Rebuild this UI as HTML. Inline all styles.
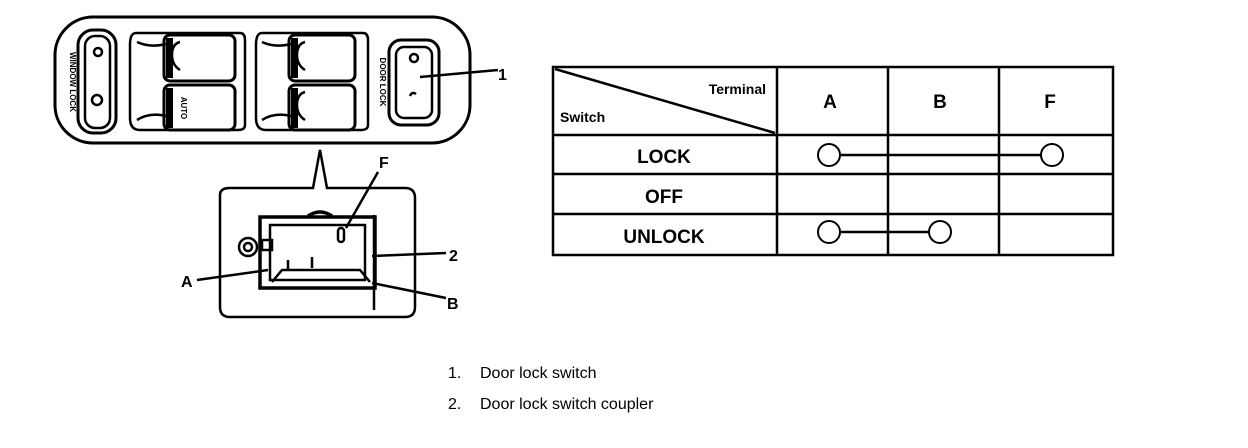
<!DOCTYPE html>
<html><head><meta charset="utf-8"><style>
html,body{margin:0;padding:0;background:#fff;}
svg{display:block;}
text{font-family:"Liberation Sans",Arial,sans-serif;fill:#000;}
</style></head><body>
<svg width="1248" height="448" viewBox="0 0 1248 448" xmlns="http://www.w3.org/2000/svg">
<g fill="none" stroke="#000" stroke-width="2.5">
  <!-- panel -->
  <rect x="55" y="17" width="415" height="126" rx="38" stroke-width="3"/>
  <!-- window lock switch -->
  <rect x="78" y="30" width="38" height="103" rx="15" stroke-width="3"/>
  <rect x="85" y="36" width="25" height="92" rx="10"/>
  <circle cx="98" cy="52" r="4"/>
  <circle cx="97" cy="100" r="5"/>
  <!-- group 1 -->
  <path d="M136 33 H240 Q245 33 245 40 V125 Q245 130 238 130 H140 Q130 130 130 118 V45 Q130 33 136 33Z"/>
  <rect x="164" y="35" width="71" height="46" rx="6" stroke-width="3"/>
  <rect x="164" y="85" width="71" height="45" rx="6" stroke-width="3"/>
  <path d="M137 42 Q150 48 166 44"/><path d="M137 120 Q150 112 166 116"/>
  <path d="M180 42 Q172 44 172 55 Q172 65 180 70"/>
  <!-- group 2 -->
  <path d="M262 33 H363 Q368 33 368 40 V125 Q368 130 361 130 H266 Q256 130 256 118 V45 Q256 33 262 33Z"/>
  <rect x="289" y="35" width="66" height="46" rx="6" stroke-width="3"/>
  <rect x="289" y="85" width="66" height="45" rx="6" stroke-width="3"/>
  <path d="M262 42 Q275 48 291 44"/><path d="M262 120 Q275 112 291 116"/>
  <path d="M305 42 Q297 44 297 55 Q297 65 305 70"/>
  <path d="M305 92 Q297 94 297 105 Q297 115 305 120"/>
  <!-- door lock switch -->
  <rect x="389" y="40" width="50" height="85" rx="12" stroke-width="3"/>
  <rect x="396" y="47" width="36" height="71" rx="8"/>
  <circle cx="414" cy="58" r="4"/>
  <path d="M410 96 Q412 91 416 94"/>
  <line x1="420" y1="77" x2="498" y2="70"/>
  <!-- pointer + coupler box -->
  <path d="M220 195 Q220 188 230 188 H313 L320 150 L327 188 H405 Q415 188 415 198 V307 Q415 317 405 317 H230 Q220 317 220 307Z"/>
  <rect x="260" y="217" width="115" height="71" stroke-width="3.5"/>
  <rect x="270" y="225" width="95" height="55"/>
  <path d="M308 216 Q320 208 332 216" stroke-width="3.5"/>
  <line x1="374" y1="215" x2="374" y2="310"/>
  <circle cx="248" cy="247" r="9"/><circle cx="248" cy="247" r="4"/>
  <rect x="262" y="240" width="10" height="10"/>
  <rect x="338" y="228" width="6" height="14" rx="3"/>
  <path d="M288 260 V270 M312 257 V268"/>
  <path d="M272 282 L282 270 H360 L370 282"/>
  <line x1="346" y1="228" x2="378" y2="172"/>
  <line x1="372" y1="256" x2="446" y2="253"/>
  <line x1="268" y1="270" x2="197" y2="280"/>
  <line x1="372" y1="283" x2="446" y2="298"/>
</g>
<g fill="#000" stroke="none">
  <rect x="166" y="38" width="7" height="40"/>
  <rect x="166" y="88" width="7" height="40"/>
  <rect x="291" y="38" width="7" height="40"/>
  <rect x="291" y="88" width="7" height="40"/>
</g>
<text x="70" y="82" font-size="8" font-weight="bold" transform="rotate(90 70 82)" text-anchor="middle">WINDOW LOCK</text>
<text x="380" y="82" font-size="8" font-weight="bold" transform="rotate(90 380 82)" text-anchor="middle">DOOR LOCK</text>
<text x="181" y="108" font-size="8" font-weight="bold" transform="rotate(90 181 108)" text-anchor="middle">AUTO</text>
<g font-weight="bold">
<text x="498" y="80" font-size="16">1</text>
<text x="379" y="168" font-size="16">F</text>
<text x="449" y="261" font-size="16">2</text>
<text x="181" y="287" font-size="16">A</text>
<text x="447" y="309" font-size="16">B</text>
</g>

<!-- table -->
<g fill="none" stroke="#000" stroke-width="2.5">
  <rect x="553" y="67" width="560" height="188"/>
  <line x1="553" y1="135" x2="1113" y2="135"/>
  <line x1="553" y1="174" x2="1113" y2="174"/>
  <line x1="553" y1="214" x2="1113" y2="214"/>
  <line x1="777" y1="67" x2="777" y2="255"/>
  <line x1="888" y1="67" x2="888" y2="255"/>
  <line x1="999" y1="67" x2="999" y2="255"/>
  <line x1="555" y1="69" x2="775" y2="133"/>
  <line x1="840" y1="155" x2="1041" y2="155"/>
  <line x1="840" y1="232" x2="929" y2="232"/>
  <circle cx="829" cy="155" r="11" stroke-width="2"/>
  <circle cx="1052" cy="155" r="11" stroke-width="2"/>
  <circle cx="829" cy="232" r="11" stroke-width="2"/>
  <circle cx="940" cy="232" r="11" stroke-width="2"/>
</g>
<g font-weight="bold">
<text x="766" y="94" font-size="14" text-anchor="end">Terminal</text>
<text x="560" y="122" font-size="14">Switch</text>
<text x="830" y="108" font-size="19" text-anchor="middle">A</text>
<text x="940" y="108" font-size="19" text-anchor="middle">B</text>
<text x="1050" y="108" font-size="19" text-anchor="middle">F</text>
<text x="664" y="163" font-size="19" text-anchor="middle">LOCK</text>
<text x="664" y="203" font-size="19" text-anchor="middle">OFF</text>
<text x="664" y="243" font-size="19" text-anchor="middle">UNLOCK</text>
</g>

<text x="448" y="378" font-size="16">1.</text>
<text x="480" y="378" font-size="16">Door lock switch</text>
<text x="448" y="409" font-size="16">2.</text>
<text x="480" y="409" font-size="16">Door lock switch coupler</text>
</svg>
</body></html>
